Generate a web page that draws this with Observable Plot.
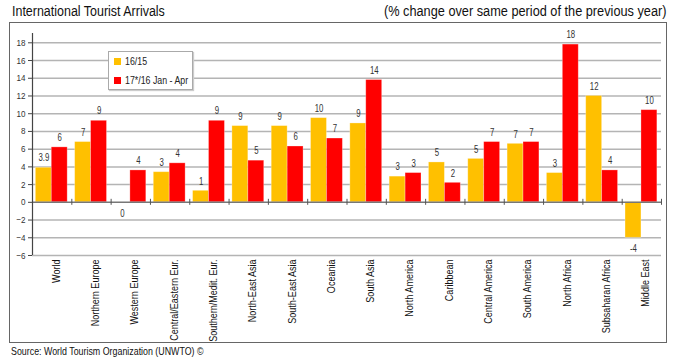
<!DOCTYPE html>
<html><head><meta charset="utf-8">
<script src="https://cdn.jsdelivr.net/npm/d3@7"></script>
<script src="https://cdn.jsdelivr.net/npm/@observablehq/plot@0.6"></script>
<style>
body{margin:0;background:#fff;font-family:"Liberation Sans",Arial,sans-serif;}
#page{position:relative;width:677px;height:364px;overflow:hidden;}
.t{position:absolute;white-space:nowrap;color:#111;}
#title{left:12px;top:3px;font-size:14px;transform:scaleX(0.89);transform-origin:left center;}
#subtitle{right:11px;top:3px;font-size:14px;transform:scaleX(0.91);transform-origin:right center;}
#box{position:absolute;left:9px;top:22px;width:656px;height:319px;border:1px solid #666;}
#chart{position:absolute;left:0;top:0;}
#source{left:11px;top:345px;font-size:11.5px;transform:scaleX(0.77);transform-origin:left center;}
#legend{position:absolute;left:98px;top:28px;width:83px;height:37px;border:1px solid #aaa;background:#fff;box-shadow:1px 1px 1px #ccc;font-size:11px;color:#222;}
#legend .row{position:absolute;left:5px;display:flex;align-items:center;white-space:nowrap;}
#legend .sw{width:7px;height:7px;margin-right:4px;flex:none;}
#legend .lt{display:inline-block;transform:scaleX(0.8);transform-origin:left center;}
</style>
</head><body>
<div id="page">
  <div class="t" id="title">International Tourist Arrivals</div>
  <div class="t" id="subtitle">(% change over same period of the previous year)</div>
  <div id="box"><div id="chart"></div>
    <div id="legend"></div>
  </div>
  <div class="t" id="source">Source: World Tourism Organization (UNWTO) ©</div>
</div>
<script>
const categories = ["World","Northern Europe","Western Europe","Central/Eastern Eur.","Southern/Medit. Eur.","North-East Asia","South-East Asia","Oceania","South Asia","North America","Caribbean","Central America","South America","North Africa","Subsaharan Africa","Middle East"];
const seriesNames = ["16/15","17*/16 Jan - Apr"];
const seriesColors = ["#FFC000","#FF0000"];
const values1615 = [3.9, 6.8, 0, 3.4, 1.3, 8.6, 8.6, 9.5, 8.9, 2.9, 4.5, 4.9, 6.6, 3.3, 12.0, -4.0];
const values1716 = [6.2, 9.2, 3.6, 4.4, 9.2, 4.7, 6.3, 7.2, 13.8, 3.3, 2.2, 6.8, 6.8, 17.8, 3.6, 10.4];
const labels1615 = ["3.9","7","0","3","1","9","9","10","9","3","5","5","7","3","12","-4"];
const labels1716 = ["6","9","4","4","9","5","6","7","14","3","2","7","7","18","4","10"];
const yTicks = [-6,-4,-2,0,2,4,6,8,10,12,14,16,18];

const rows = [];
categories.forEach((c, i) => {
  rows.push({i, cat: c, s: 0, value: values1615[i], label: labels1615[i]});
  rows.push({i, cat: c, s: 1, value: values1716[i], label: labels1716[i]});
});
const barStart = s => s === 0 ? 0.085 : 0.49;
const barEnd = s => s === 0 ? 0.49 : 0.895;
const barMid = d => d.i + (barStart(d.s) + barEnd(d.s)) / 2;
const centers = categories.map((c, i) => i + 0.5);
const bounds = d3.range(0, categories.length + 1);

const chart = Plot.plot({
  width: 656, height: 319,
  marginLeft: 22, marginRight: 5, marginTop: 10, marginBottom: 87,
  style: {fontFamily: '"Liberation Sans",Arial,sans-serif', background: "transparent"},
  x: {domain: [0, categories.length], axis: null},
  y: {domain: [-6, 19.05], axis: null},
  marks: [
    Plot.ruleY(yTicks.filter(t => t !== 0), {stroke: "#b4b4b4", strokeWidth: 1.5}),
    Plot.rect(rows, {x1: d => d.i + barStart(d.s), x2: d => d.i + barEnd(d.s), y1: 0, y2: "value",
      fill: d => seriesColors[d.s], stroke: "#ffffff", strokeOpacity: 0.35, strokeWidth: 0.8}),
    Plot.ruleY([0], {stroke: "#777", strokeWidth: 1.5}),
    Plot.ruleX(bounds, {x: d => d, y1: 0, y2: 0, insetTop: -3, insetBottom: -3, stroke: "#555", strokeWidth: 1}),
    Plot.ruleX([0], {stroke: "#444", strokeWidth: 1.2}),
    Plot.text(rows.filter(d => d.value > 0), {x: barMid, y: "value", text: "label",
      dy: -9.5, fontSize: 10, fill: "#333"}),
    Plot.text(rows.filter(d => d.value <= 0), {x: barMid, y: "value", text: "label",
      dy: 11.5, fontSize: 10, fill: "#333"}),
    Plot.axisY({ticks: yTicks, label: null, tickSize: 4, tickPadding: 3, fontSize: 9.5, color: "#333", stroke: "#444"}),
    Plot.axisX({ticks: centers, label: null, tickFormat: d => categories[Math.floor(d)], tickSize: 0, tickPadding: 4,
      rotate: -90, textAnchor: "end", fontSize: 10.5, color: "#111"})
  ]
});
document.getElementById("chart").appendChild(chart);

// condense text like the original narrow font
function condense(sel, f) {
  chart.querySelectorAll(sel).forEach(t => {
    const len = t.getComputedTextLength();
    if (len > 0) {
      t.setAttribute("textLength", (len * f).toFixed(2));
      t.setAttribute("lengthAdjust", "spacingAndGlyphs");
    }
  });
}
condense('g[aria-label="x-axis tick label"] text', 0.86);
condense('g[aria-label="text"] text', 0.78);
condense('g[aria-label="y-axis tick label"] text', 0.85);

const legend = document.getElementById("legend");
seriesNames.forEach((n, k) => {
  const row = document.createElement("div");
  row.className = "row";
  row.style.top = (k === 0 ? 3 : 22) + "px";
  row.innerHTML = `<span class="sw" style="background:${seriesColors[k]}"></span><span class="lt">${n}</span>`;
  legend.appendChild(row);
});
</script>
</body></html>
